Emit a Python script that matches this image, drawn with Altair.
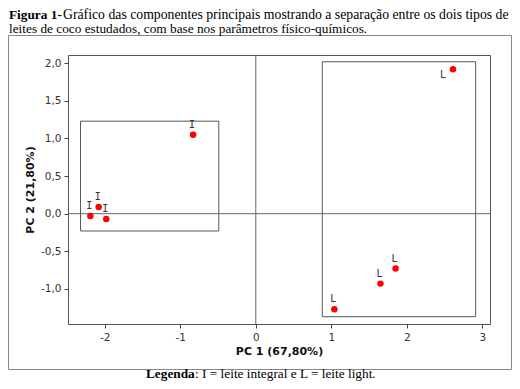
import altair as alt
import pandas as pd

# ---- data ----
group = ["I", "I", "I", "I", "L", "L", "L", "L"]
pc1 = [-2.19, -2.08, -1.98, -0.83, 2.61, 1.85, 1.65, 1.04]
pc2 = [-0.03, 0.09, -0.07, 1.05, 1.92, -0.73, -0.93, -1.27]

box_group = ["I", "L"]
box_x1 = [-2.32, 0.88]
box_x2 = [-0.49, 2.91]
box_y1 = [-0.23, -1.37]
box_y2 = [1.23, 2.02]

x_ticks = [-2, -1, 0, 1, 2, 3]
y_ticks = [-1.0, -0.5, 0.0, 0.5, 1.0, 1.5, 2.0]
x_domain = [-2.486, 3.1]
y_domain = [-1.467, 2.11]

x_title = "PC 1 (67,80%)"
y_title = "PC 2 (21,80%)"
caption_bold = "Figura 1-"
caption_rest1 = "Gráfico das componentes principais mostrando a separação entre os dois tipos de"
caption_line2 = "leites de coco estudados, com base nos parâmetros físico-químicos."
legend_bold = "Legenda"
legend_rest = ": I = leite integral e L = leite light."

pts = pd.DataFrame({"group": group, "pc1": pc1, "pc2": pc2})
boxes = pd.DataFrame({"g": box_group, "x1": box_x1, "x2": box_x2, "y1": box_y1, "y2": box_y2})
one = pd.DataFrame({"v": [0]})

W, H = 422, 269
SANS = "DejaVu Sans"
SERIF = "Liberation Serif"

xs = alt.Scale(domain=x_domain, nice=False, zero=False)
ys = alt.Scale(domain=y_domain, nice=False, zero=False)

xaxis = alt.Axis(values=x_ticks, labelExpr="replace(format(datum.value, 'd'), '\u2212', '-')",
                 grid=False, domain=False, tickSize=4,
                 tickColor="#444", labelColor="#333", labelFont=SANS, labelFontSize=10.5,
                 labelPadding=4, title=x_title, titleFont=SANS, titleFontSize=11,
                 titleFontWeight="bold", titleColor="#111", titleBaseline="alphabetic",
                 titleX=W / 2, titleY=30)
yaxis = alt.Axis(values=y_ticks,
                 labelExpr="replace(replace(format(datum.value, '.1f'), '.', ','), '\u2212', '-')",
                 grid=False, domain=False, tickSize=4, tickColor="#444", labelColor="#333",
                 labelFont=SANS, labelFontSize=10.5, labelPadding=3, title=y_title,
                 titleFont=SANS, titleFontSize=11, titleFontWeight="bold", titleColor="#111",
                 titleBaseline="alphabetic", titleX=-35, titleY=H / 2, titleAngle=270)

base = alt.Chart(pts)

points = base.mark_point(filled=True, shape="circle", size=42, color="#ff0000", opacity=1).encode(
    x=alt.X("pc1:Q", scale=xs, axis=xaxis),
    y=alt.Y("pc2:Q", scale=ys, axis=yaxis),
)

LBL = "DejaVu Sans Mono"
labels_above = base.transform_filter("!(datum.group == 'L' && datum.pc2 > 1.5)").mark_text(
    font=LBL, fontSize=10, color="#333", dy=-10, dx=-1
).encode(x=alt.X("pc1:Q", scale=xs), y=alt.Y("pc2:Q", scale=ys), text="group:N")

labels_side = base.transform_filter("datum.group == 'L' && datum.pc2 > 1.5").mark_text(
    font=LBL, fontSize=10, color="#333", dx=-10, dy=6
).encode(x=alt.X("pc1:Q", scale=xs), y=alt.Y("pc2:Q", scale=ys), text="group:N")

rects = alt.Chart(boxes).mark_rect(fillOpacity=0, stroke="#555", strokeWidth=1).encode(
    x=alt.X("x1:Q", scale=xs), x2="x2:Q", y=alt.Y("y1:Q", scale=ys), y2="y2:Q"
)

vrule = alt.Chart(one).mark_rule(color="#666", strokeWidth=1).encode(x=alt.X("v:Q", scale=xs))
hrule = alt.Chart(one).mark_rule(color="#666", strokeWidth=1).encode(y=alt.Y("v:Q", scale=ys))

frame = alt.Chart(one).mark_rect(fillOpacity=0, stroke="#888", strokeWidth=1).encode(
    x=alt.value(-59.5), x2=alt.value(443.5), y=alt.value(-19.5), y2=alt.value(314.5)
)

def txt(s, x, y, weight="normal", size=13.3):
    return alt.Chart(pd.DataFrame({"t": [s]})).mark_text(
        font=SERIF, fontSize=size, fontWeight=weight, color="#000", align="left",
        baseline="alphabetic"
    ).encode(x=alt.value(x), y=alt.value(y), text="t:N")

cap1b = txt(caption_bold, -59, -36, "bold")
cap1 = txt(caption_rest1, -5, -36, size=13.75)
cap2 = txt(caption_line2, -59, -22.5)
leg_b = txt(legend_bold, 78, 323, "bold")
leg_r = txt(legend_rest, 127, 323)

chart = alt.layer(
    frame, rects, vrule, hrule, points, labels_above, labels_side,
    cap1b, cap1, cap2, leg_b, leg_r
).properties(
    width=W, height=H,
    autosize=alt.AutoSizeParams(type="none"),
    padding={"left": 60, "top": 47, "right": 22, "bottom": 57},
    background="white",
).configure_view(stroke="#555", strokeWidth=1)

chart.save("out.html", embed_options={"renderer": "svg", "actions": False})
